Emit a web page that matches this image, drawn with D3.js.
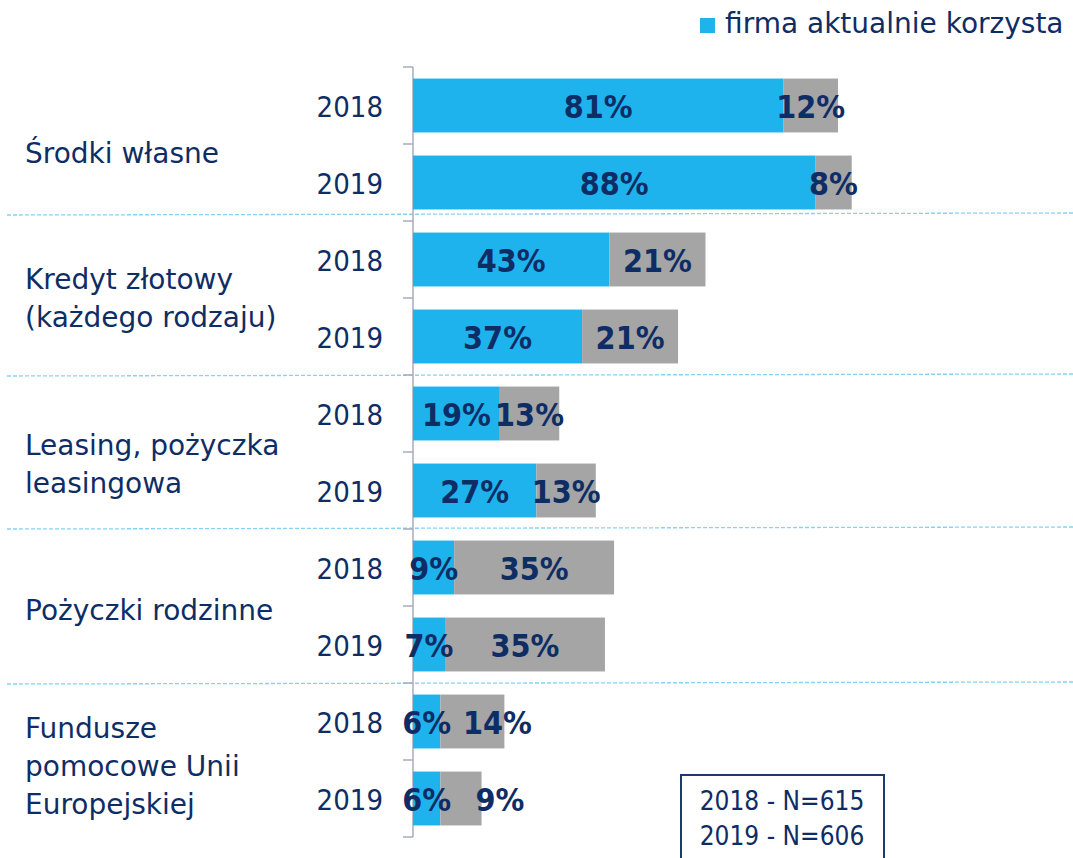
<!DOCTYPE html>
<html>
<head>
<meta charset="utf-8">
<script src="https://cdn.jsdelivr.net/npm/d3@7"></script>
<style>
  html, body { margin: 0; padding: 0; background: #ffffff; }
  svg { display: block; }
</style>
</head>
<body>
<svg id="chart" width="1073" height="858"></svg>
<script>
// ---- data ----
const categories = [
  ["Środki własne"],
  ["Kredyt złotowy", "(każdego rodzaju)"],
  ["Leasing, pożyczka", "leasingowa"],
  ["Pożyczki rodzinne"],
  ["Fundusze", "pomocowe Unii", "Europejskiej"]
];
const years = ["2018", "2019"];
const currentUse2018 = [81, 43, 19, 9, 6];
const currentUse2019 = [88, 37, 27, 7, 6];
const otherUse2018 = [12, 21, 13, 35, 14];
const otherUse2019 = [8, 21, 13, 35, 9];
const legendLabel = "firma aktualnie korzysta";
const sampleNotes = ["2018 - N=615", "2019 - N=606"];

// ---- build rows ----
const rows = [];
categories.forEach((c, i) => {
  rows.push({ cat: i, year: years[0], a: currentUse2018[i], b: otherUse2018[i] });
  rows.push({ cat: i, year: years[1], a: currentUse2019[i], b: otherUse2019[i] });
});
rows.forEach((r, i) => r.key = i);

const navy = "#0f2d65";
const blue = "#1fb3ee";
const gray = "#a5a5a5";
const fontMain = "'DejaVu Sans', sans-serif";
const fontCond = "'DejaVu Sans Condensed', 'DejaVu Sans', sans-serif";

const svg = d3.select("#chart");

const x = d3.scaleLinear().domain([0, 100]).range([413, 870]);
const y = d3.scaleBand().domain(rows.map(r => r.key)).range([67, 837])
  .paddingInner(0.3).paddingOuter(0.15);

// separators between categories
const sepY = d3.range(1, categories.length).map(i => y(i * 2) - y.step() * y.paddingInner() / 2);
const sepAdj = [-7, 0, -1, 0];
svg.append("g").selectAll("line").data(sepY).join("line")
  .attr("x1", 7).attr("x2", 1073)
  .attr("y1", (d, i) => d + sepAdj[i] + 1)
  .attr("y2", (d, i) => d + sepAdj[i] - 1)
  .attr("stroke", "#86d2f5").attr("stroke-width", 1.3)
  .attr("stroke-dasharray", "4,2");

// axis line + ticks
const boundaries = d3.range(rows.length + 1).map(i => 67 + i * y.step());
const ax = svg.append("g");
ax.append("line").attr("x1", x(0)).attr("x2", x(0))
  .attr("y1", boundaries[0]).attr("y2", boundaries[boundaries.length - 1])
  .attr("stroke", "#a9abbc").attr("stroke-width", 1.5);
ax.selectAll("line.tick").data(boundaries).join("line").attr("class", "tick")
  .attr("x1", x(0) - 10).attr("x2", x(0))
  .attr("y1", d => d).attr("y2", d => d)
  .attr("stroke", "#a9abbc").attr("stroke-width", 1.5);

// bars
const barG = svg.append("g");
barG.selectAll("rect.a").data(rows).join("rect").attr("class", "a")
  .attr("x", x(0)).attr("y", d => y(d.key))
  .attr("width", d => x(d.a) - x(0)).attr("height", y.bandwidth())
  .attr("fill", blue);
barG.selectAll("rect.b").data(rows).join("rect").attr("class", "b")
  .attr("x", d => x(d.a)).attr("y", d => y(d.key))
  .attr("width", d => x(d.a + d.b) - x(d.a)).attr("height", y.bandwidth())
  .attr("fill", gray);

// value labels
const nudge = { 8: 25, 9: 39 };
const lab = svg.append("g")
  .attr("font-family", fontCond).attr("font-weight", "bold")
  .attr("font-size", 32).attr("fill", navy).attr("text-anchor", "middle");
lab.selectAll("text.a").data(rows).join("text").attr("class", "a")
  .attr("x", d => (x(0) + x(d.a)) / 2)
  .attr("y", d => y(d.key) + y.bandwidth() / 2 + 12)
  .text(d => d.a + "%");
lab.selectAll("text.b").data(rows).join("text").attr("class", "b")
  .attr("x", d => (x(d.a) + x(d.a + d.b)) / 2 + (nudge[d.key] || 0))
  .attr("y", d => y(d.key) + y.bandwidth() / 2 + 12)
  .text(d => d.b + "%");

// year labels
svg.append("g").selectAll("text").data(rows).join("text")
  .attr("x", 383).attr("y", d => y(d.key) + y.bandwidth() / 2 + 11)
  .attr("text-anchor", "end").attr("font-family", fontCond)
  .attr("font-size", 29).attr("fill", navy)
  .text(d => d.year);

// category labels
const catAdj = [9, 0, 12, 4, 6];
const catG = svg.append("g").attr("font-family", fontMain)
  .attr("font-size", 28).attr("fill", navy);
categories.forEach((lines, i) => {
  const mid = (y(i * 2) + y(i * 2 + 1) + y.bandwidth()) / 2;
  catG.selectAll(null).data(lines).join("text")
    .attr("x", 25)
    .attr("y", (d, j) => mid + 10 + catAdj[i] + (j - (lines.length - 1) / 2) * 38)
    .text(d => d);
});

// legend
const lg = svg.append("g");
lg.append("rect").attr("x", 700).attr("y", 18).attr("width", 15).attr("height", 15).attr("fill", blue);
lg.append("text").attr("x", 725).attr("y", 33)
  .attr("font-family", fontMain).attr("font-size", 28).attr("fill", navy)
  .text(legendLabel);

// sample size box
const bx = svg.append("g");
bx.append("rect").attr("x", 681).attr("y", 775).attr("width", 203).attr("height", 100)
  .attr("fill", "none").attr("stroke", "#1d3a6e").attr("stroke-width", 2);
bx.selectAll("text").data(sampleNotes).join("text")
  .attr("x", 782).attr("y", (d, i) => 810 + i * 35)
  .attr("text-anchor", "middle").attr("font-family", fontCond)
  .attr("font-size", 26).attr("fill", navy)
  .text(d => d);
</script>
</body>
</html>
